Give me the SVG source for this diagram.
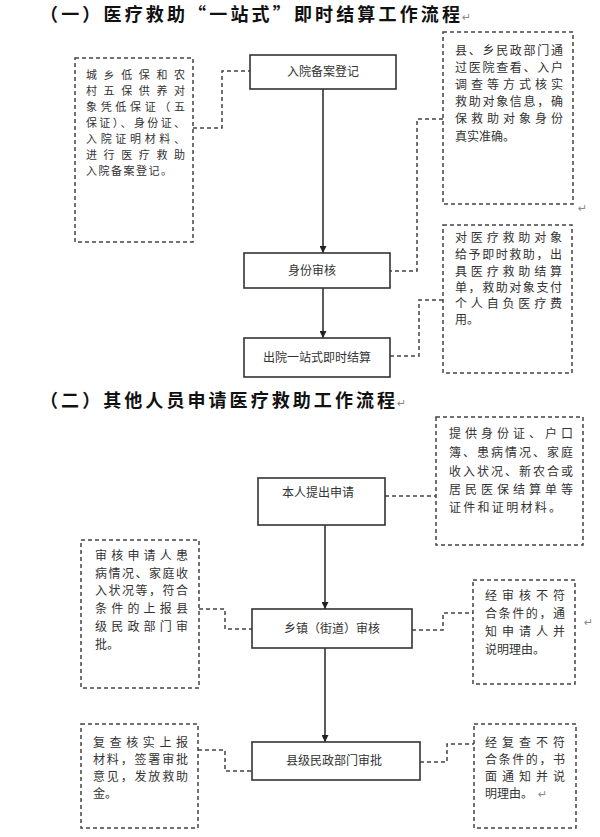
<svg xmlns="http://www.w3.org/2000/svg" width="600" height="837" viewBox="0 0 600 837">
<defs>
<style>
.title{font-family:"Noto Sans CJK SC","Noto Sans CJK TC",sans-serif;font-size:18px;font-weight:bold;fill:#111}
.t{font-family:"Noto Sans CJK SC","Noto Sans CJK TC",sans-serif;font-size:12px;fill:#333}
.ts{font-family:"Noto Sans CJK SC","Noto Sans CJK TC",sans-serif;font-size:11px;fill:#333}
.mark{font-family:"DejaVu Sans",sans-serif;font-size:11px;fill:#888}
.box{fill:#fff;stroke:#333;stroke-width:1.6}
.dbox{fill:#fff;stroke:#444;stroke-width:1.5;stroke-dasharray:4 3}
.dl{fill:none;stroke:#444;stroke-width:1.5;stroke-dasharray:4 3}
.al{fill:none;stroke:#333;stroke-width:1.6}
</style>
<marker id="ah" viewBox="0 0 10 10" refX="10" refY="5" markerWidth="7" markerHeight="7" markerUnits="userSpaceOnUse" orient="auto">
<path d="M0,0 L10,5 L0,10 z" fill="#222"/>
</marker>
</defs>
<rect width="600" height="837" fill="#fff"/>

<g id="title1"><text class="title" x="40" y="21" textLength="420" lengthAdjust="spacing">（一）医疗救助“一站式”即时结算工作流程</text><text class="mark" x="462" y="21">↵</text></g>
<g id="title2"><text class="title" x="40" y="407" textLength="355" lengthAdjust="spacing">（二）其他人员申请医疗救助工作流程</text><text class="mark" x="397" y="407">↵</text></g>

<g id="connectors">
<line class="al" x1="323" y1="89" x2="323" y2="253" marker-end="url(#ah)"/>
<line class="al" x1="323" y1="288" x2="323" y2="338" marker-end="url(#ah)"/>
<line class="al" x1="325" y1="525" x2="325" y2="609" marker-end="url(#ah)"/>
<line class="al" x1="325" y1="648" x2="325" y2="742" marker-end="url(#ah)"/>
<polyline class="dl" points="193,128 222,128 222,71 250,71"/>
<polyline class="dl" points="443,119 417,119 417,271 390,271"/>
<polyline class="dl" points="443,300 419,300 419,356 390,356"/>
<polyline class="dl" points="385,496 436,496"/>
<polyline class="dl" points="199,609 225,609 225,629 252,629"/>
<polyline class="dl" points="412,630 443,630 443,613 473,613"/>
<polyline class="dl" points="198,750 225,750 225,771 252,771"/>
<polyline class="dl" points="420,762 447,762 447,744 474,744"/>
</g>

<g id="n1"><rect class="box" x="250" y="55" width="146" height="34"/><text class="t" x="323" y="76" text-anchor="middle">入院备案登记</text></g>
<g id="n2"><rect class="box" x="244" y="253" width="146" height="35"/><text class="t" x="312" y="275" text-anchor="middle">身份审核</text></g>
<g id="n3"><rect class="box" x="244" y="338" width="146" height="39"/><text class="t" x="317" y="362" text-anchor="middle">出院一站式即时结算</text></g>

<g id="note1"><rect class="dbox" x="75" y="58" width="118" height="184"/>
<text class="ts" x="86" y="79" textLength="99" lengthAdjust="spacing">城乡低保和农</text>
<text class="ts" x="86" y="95" textLength="99" lengthAdjust="spacing">村五保供养对</text>
<text class="ts" x="86" y="111" textLength="99" lengthAdjust="spacing">象凭低保证（五</text>
<text class="ts" x="86" y="127" textLength="99" lengthAdjust="spacing">保证）、身份证、</text>
<text class="ts" x="86" y="143" textLength="99" lengthAdjust="spacing">入院证明材料、</text>
<text class="ts" x="86" y="159" textLength="99" lengthAdjust="spacing">进行医疗救助</text>
<text class="ts" x="86" y="175" textLength="86" lengthAdjust="spacing">入院备案登记。</text>
</g>

<g id="note2"><rect class="dbox" x="443" y="32" width="130" height="172"/>
<text class="t" x="455" y="55" textLength="108" lengthAdjust="spacing">县、乡民政部门通</text>
<text class="t" x="455" y="72" textLength="108" lengthAdjust="spacing">过医院查看、入户</text>
<text class="t" x="455" y="89" textLength="108" lengthAdjust="spacing">调查等方式核实</text>
<text class="t" x="455" y="106" textLength="108" lengthAdjust="spacing">救助对象信息，确</text>
<text class="t" x="455" y="123" textLength="108" lengthAdjust="spacing">保救助对象身份</text>
<text class="t" x="455" y="141">真实准确。</text>
<text class="mark" x="578" y="212">↵</text>
</g>

<g id="note3"><rect class="dbox" x="443" y="225" width="129" height="148"/>
<text class="t" x="455" y="242" textLength="107" lengthAdjust="spacing">对医疗救助对象</text>
<text class="t" x="455" y="259" textLength="107" lengthAdjust="spacing">给予即时救助，出</text>
<text class="t" x="455" y="276" textLength="107" lengthAdjust="spacing">具医疗救助结算</text>
<text class="t" x="455" y="292" textLength="107" lengthAdjust="spacing">单，救助对象支付</text>
<text class="t" x="455" y="308" textLength="107" lengthAdjust="spacing">个人自负医疗费</text>
<text class="t" x="455" y="324">用。</text>
</g>

<g id="m1"><rect class="box" x="258" y="478" width="127" height="47"/><text class="t" x="318" y="497" text-anchor="middle">本人提出申请</text></g>
<g id="m2"><rect class="box" x="252" y="609" width="160" height="39"/><text class="t" x="332" y="633" text-anchor="middle">乡镇（街道）审核</text></g>
<g id="m3"><rect class="box" x="252" y="742" width="168" height="38"/><text class="t" x="334" y="765" text-anchor="middle">县级民政部门审批</text></g>

<g id="note4"><rect class="dbox" x="436" y="417" width="147" height="128"/>
<text class="t" x="449" y="438" textLength="124" lengthAdjust="spacing">提供身份证、户口</text>
<text class="t" x="449" y="457" textLength="124" lengthAdjust="spacing">簿、患病情况、家庭</text>
<text class="t" x="449" y="476" textLength="124" lengthAdjust="spacing">收入状况、新农合或</text>
<text class="t" x="449" y="494" textLength="124" lengthAdjust="spacing">居民医保结算单等</text>
<text class="t" x="449" y="512" textLength="112" lengthAdjust="spacing">证件和证明材料。</text>
</g>

<g id="note5"><rect class="dbox" x="81" y="540" width="118" height="148"/>
<text class="t" x="95" y="560" textLength="93" lengthAdjust="spacing">审核申请人患</text>
<text class="t" x="95" y="578" textLength="93" lengthAdjust="spacing">病情况、家庭收</text>
<text class="t" x="95" y="595" textLength="93" lengthAdjust="spacing">入状况等，符合</text>
<text class="t" x="95" y="613" textLength="93" lengthAdjust="spacing">条件的上报县</text>
<text class="t" x="95" y="631" textLength="93" lengthAdjust="spacing">级民政部门审</text>
<text class="t" x="95" y="649">批。</text>
</g>

<g id="note6"><rect class="dbox" x="473" y="580" width="102" height="104"/>
<text class="t" x="485" y="600" textLength="80" lengthAdjust="spacing">经审核不符</text>
<text class="t" x="485" y="618" textLength="80" lengthAdjust="spacing">合条件的，通</text>
<text class="t" x="485" y="636" textLength="80" lengthAdjust="spacing">知申请人并</text>
<text class="t" x="485" y="654">说明理由。</text>
<text class="mark" x="584" y="626">↵</text>
</g>

<g id="note7"><rect class="dbox" x="81" y="724" width="117" height="104"/>
<text class="t" x="93" y="747" textLength="95" lengthAdjust="spacing">复查核实上报</text>
<text class="t" x="93" y="764" textLength="95" lengthAdjust="spacing">材料，签署审批</text>
<text class="t" x="93" y="781" textLength="95" lengthAdjust="spacing">意见，发放救助</text>
<text class="t" x="93" y="798">金。</text>
</g>

<g id="note8"><rect class="dbox" x="474" y="724" width="102" height="104"/>
<text class="t" x="485" y="747" textLength="80" lengthAdjust="spacing">经复查不符</text>
<text class="t" x="485" y="764" textLength="80" lengthAdjust="spacing">合条件的，书</text>
<text class="t" x="485" y="781" textLength="80" lengthAdjust="spacing">面通知并说</text>
<text class="t" x="485" y="798">明理由。</text><text class="mark" x="538" y="798">↵</text>
</g>
</svg>
